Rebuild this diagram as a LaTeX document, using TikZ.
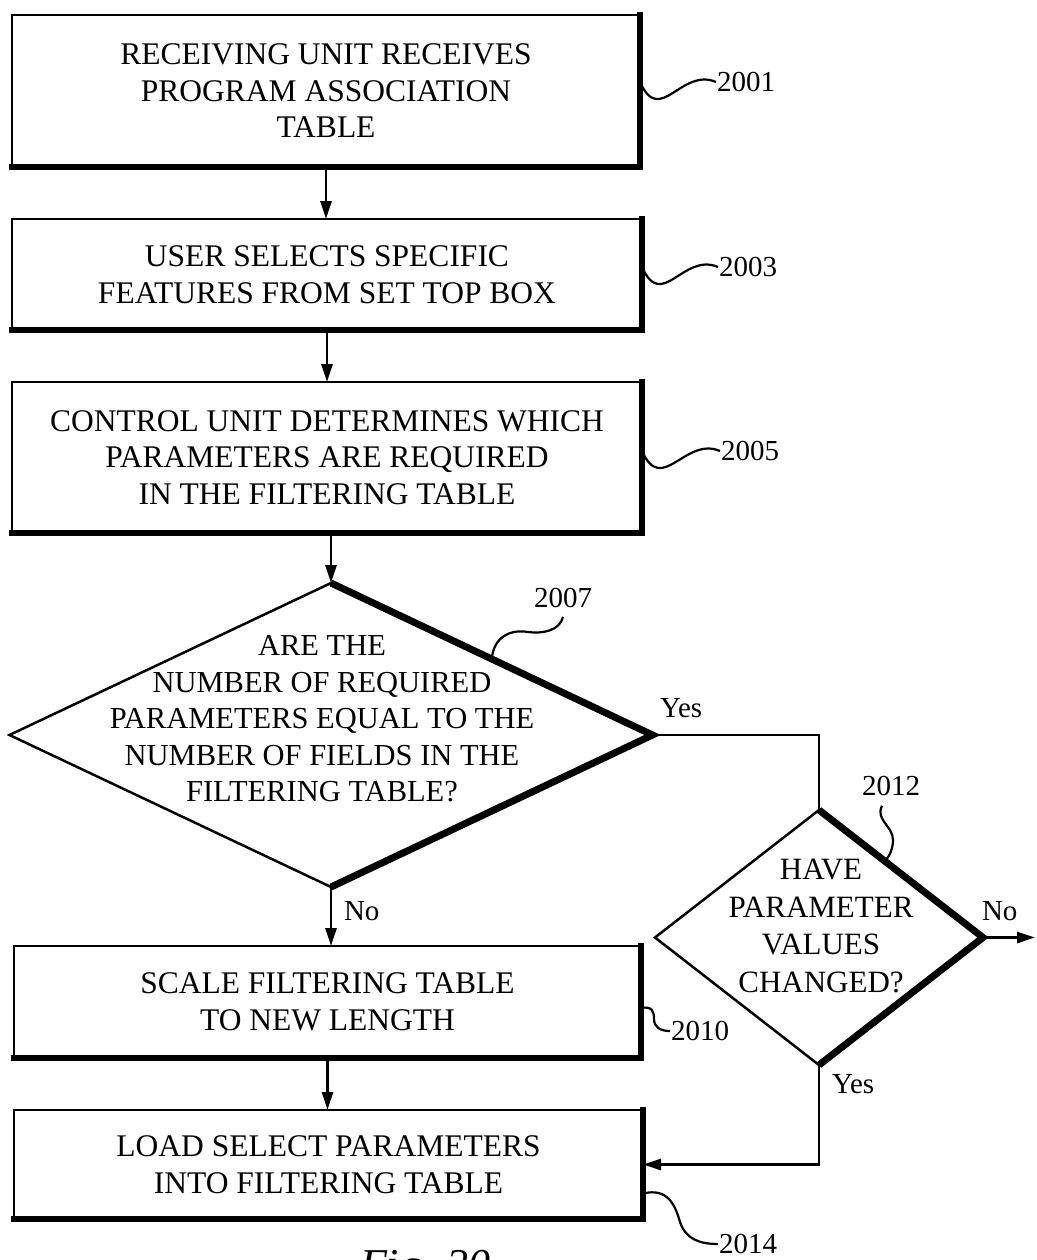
\documentclass[tikz,border=0pt]{standalone}
\usepackage{fontspec}
\setmainfont{Liberation Serif}
\usetikzlibrary{arrows.meta,shapes.geometric,calc}
\begin{document}
\begin{tikzpicture}[x=1pt,y=-1pt,
  every node/.style={inner sep=0pt, outer sep=0pt},
  stepbox/.style={draw, line width=2.5pt, rectangle, align=center,
    font=\fontsize{31.5}{36.5}\selectfont},
  decision/.style={draw, line width=2.5pt, diamond},
  qtext/.style={align=center, font=\fontsize{30.5}{36.5}\selectfont},
  heavy/.style={line width=6pt, line cap=rect},
  heavyd/.style={line width=7pt},
  flow/.style={line width=2.8pt},
  arr/.style={flow, -{Triangle[length=18pt,width=11pt]}},
  refnum/.style={font=\fontsize{29}{33}\selectfont, inner sep=1pt},
  lead/.style={line width=2.2pt},
  answer/.style={font=\fontsize{29}{33}\selectfont, anchor=base west},
]
\useasboundingbox (0,0) rectangle (1036,1260);

% process boxes
\node[stepbox, minimum width=628pt, minimum height=152pt] (b1) at (326,91)
  {RECEIVING UNIT RECEIVES\\PROGRAM ASSOCIATION\\TABLE};
\node[stepbox, minimum width=630pt, minimum height=111pt] (b2) at (327,274.5)
  {USER SELECTS SPECIFIC\\FEATURES FROM SET TOP BOX};
\node[stepbox, minimum width=630pt, minimum height=151pt] (b3) at (327,457.5)
  {CONTROL UNIT DETERMINES WHICH\\PARAMETERS ARE REQUIRED\\IN THE FILTERING TABLE};
\node[stepbox, minimum width=627pt, minimum height=112pt] (b4) at (327.5,1002)
  {SCALE FILTERING TABLE\\TO NEW LENGTH};
\node[stepbox, minimum width=629pt, minimum height=109pt] (b5) at (328.5,1164.5)
  {LOAD SELECT PARAMETERS\\INTO FILTERING TABLE};
\foreach \b in {b1,b2,b3,b4,b5}
  \draw[heavy] (\b.north east) -- (\b.south east) -- (\b.south west);

% decisions
\node[decision, minimum width=643pt, minimum height=304pt] (d1) at (331,735) {};
\draw[heavyd] (d1.north) -- (d1.east) -- (d1.south);
\node[qtext] (q1) at (322,719)
  {ARE THE\\NUMBER OF REQUIRED\\PARAMETERS EQUAL TO THE\\NUMBER OF FIELDS IN THE\\FILTERING TABLE?};

\node[decision, minimum width=328pt, minimum height=255pt] (d2) at (819,937.5) {};
\draw[heavyd] (d2.north) -- (d2.east) -- (d2.south);
\node[qtext, font=\fontsize{31}{37.5}\selectfont] (q2) at (821,926)
  {HAVE\\PARAMETER\\VALUES\\CHANGED?};

% flow connectors
\draw[arr] (b1.south) -- (b1.south |- b2.north);
\draw[arr] (b2.south) -- (b2.south |- b3.north);
\draw[arr] (d1.north |- b3.south) -- (d1.north);
\draw[arr] (d1.south) -- (d1.south |- b4.north);
\draw[arr] (b4.south) -- (b4.south |- b5.north);
\draw[flow] (d1.east) -| (d2.north);
\coordinate (exit) at (1035,937.5);
\draw[arr] (d2.east) -- (exit);
\draw[arr] (d2.south) |- (b5.east);

% branch labels
\node[answer] (y1) at (660,717) {Yes};
\node[answer] (n1) at (344,920) {No};
\node[answer] (n2) at (982,920) {No};
\node[answer] (y2) at (832,1093) {Yes};

% reference numerals and their leaders
\node[refnum, anchor=west] (r1) at (716,82) {2001};
\draw[lead] (b1.east |- r1.west) .. controls +(20,45) and +(-35,-15) .. (r1.west);
\node[refnum, anchor=west] (r3) at (718,267) {2003};
\draw[lead] (b2.east |- r3.west) .. controls +(20,45) and +(-35,-15) .. (r3.west);
\node[refnum, anchor=west] (r5) at (720,451) {2005};
\draw[lead] (b3.east |- r5.west) .. controls +(20,45) and +(-35,-15) .. (r5.west);

\node[refnum] (r7) at (563,598) {2007};
\coordinate (k7) at (528,632);
\draw[lead] (d1.north east) .. controls +(2,-22) and +(-18,-3) .. (k7)
  .. controls +(14,2) and +(-3,14) .. ([yshift=-8pt]r7.south);

\node[refnum] (r12) at (891,786) {2012};
\coordinate (k12) at (893,840);
\coordinate (e12) at ($(d2.north)!0.4!(d2.east)$);
\draw[lead] ([xshift=-9pt,yshift=-9pt]r12.south) .. controls +(-7,14) and +(0,-14) .. (k12)
  .. controls +(0,8) and +(5,-4) .. (e12);

\node[refnum, anchor=west] (r10) at (670,1031) {2010};
\coordinate (k10) at (654,1019);
\draw[lead] ([yshift=-6pt]b4.east) .. controls +(11,-2) and +(0,-8) .. (k10)
  .. controls +(0,8) and +(-10,0) .. (r10.west);

\node[refnum, anchor=west] (r14) at (718,1244) {2014};
\coordinate (k14) at (680,1222);
\draw[lead] ([yshift=-29pt]b5.east) .. controls +(25,-6) and +(-5,-17) .. (k14)
  .. controls +(6,18) and +(-17,0) .. (r14.west);

% figure caption
\node[anchor=base west, font=\fontsize{44}{50}\selectfont\itshape] (cap) at (360,1279) {Fig. 20};
\end{tikzpicture}
\end{document}
